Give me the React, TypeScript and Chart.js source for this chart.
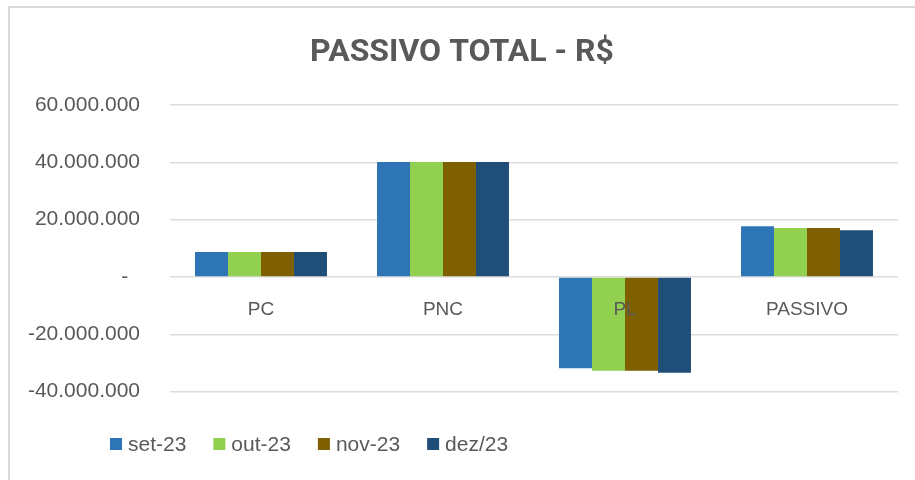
import React, { useEffect, useRef } from "react";
import { Chart, registerables } from "chart.js";

Chart.register(...registerables);

const categories = ["PC", "PNC", "PL", "PASSIVO"];
const seriesLabels = ["set-23", "out-23", "nov-23", "dez/23"];
const set23 = [8700000, 40100000, -31800000, 17700000];
const out23 = [8700000, 40100000, -32700000, 17100000];
const nov23 = [8700000, 40100000, -32700000, 17100000];
const dez23 = [8700000, 40100000, -33400000, 16300000];
const seriesValues = [set23, out23, nov23, dez23];
const seriesColors = ["#2E75B6", "#92D050", "#7F6000", "#1F4E79"];
const yTicks = [-40000000, -20000000, 0, 20000000, 40000000, 60000000];
const titleText = "PASSIVO TOTAL - R$";

function fmt(v: number): string {
  if (v === 0) return "-  ";
  const s = Math.abs(Math.round(v))
    .toString()
    .replace(/\B(?=(\d{3})+(?!\d))/g, ".");
  return (v < 0 ? "-" : "") + s;
}

const TEXT = "#595959";
const FONT = "'Liberation Sans', Arial, sans-serif";

const customLegend = {
  id: "customLegend",
  afterDraw(chart: any) {
    const ctx = chart.ctx;
    ctx.save();
    ctx.font = `21px ${FONT}`;
    ctx.textBaseline = "middle";
    ctx.textAlign = "left";
    let x = 110;
    const y = 444;
    chart.data.datasets.forEach((ds: any) => {
      ctx.fillStyle = ds.backgroundColor;
      ctx.fillRect(x, y - 6, 12, 12);
      x += 18;
      ctx.fillStyle = TEXT;
      ctx.fillText(ds.label, x, y + 1);
      x += ctx.measureText(ds.label).width + 27;
    });
    ctx.restore();
  },
};

export default function App() {
  const ref = useRef<HTMLCanvasElement | null>(null);

  useEffect(() => {
    if (!ref.current) return;
    const chart = new Chart(ref.current, {
      type: "bar",
      data: {
        labels: categories,
        datasets: seriesLabels.map((label, i) => ({
          label,
          data: seriesValues[i],
          backgroundColor: seriesColors[i],
          borderWidth: 0,
          categoryPercentage: 0.725,
          barPercentage: 1,
        })),
      },
      options: {
        responsive: false,
        animation: false,
        layout: { padding: { left: 26, right: 17, top: 0, bottom: 88.3 } },
        plugins: {
          legend: { display: false },
          tooltip: { enabled: false },
          title: {
            display: true,
            text: titleText,
            color: TEXT,
            font: { family: "Roboto", size: 32, weight: "bold", lineHeight: 1.2 },
            padding: { top: 34, bottom: 32.6 },
          },
        },
        scales: {
          x: {
            type: "category",
            position: { y: 0 } as any,
            offset: true,
            grid: { display: false, drawTicks: false },
            border: { display: false },
            ticks: {
              z: 1,
              color: TEXT,
              font: { family: FONT, size: 19 },
              padding: 21,
              maxRotation: 0,
            },
          },
          y: {
            min: -40000000,
            max: 60000000,
            afterBuildTicks: (scale: any) => {
              scale.ticks = yTicks.map((v) => ({ value: v }));
            },
            afterFit: (scale: any) => {
              scale.width = 144;
            },
            grid: { color: "#dcdcdc", lineWidth: 1.6, drawTicks: false },
            border: { display: false },
            ticks: {
              color: TEXT,
              font: { family: FONT, size: 21 },
              padding: 30,
              callback: (v: any) => fmt(Number(v)),
            },
          },
        },
      },
      plugins: [customLegend],
    });
    return () => chart.destroy();
  }, []);

  return (
    <div
      style={{
        position: "absolute",
        left: 0,
        top: 0,
        width: 915,
        height: 480,
        overflow: "hidden",
        background: "#ffffff",
      }}
    >
      <div
        style={{
          position: "absolute",
          left: 8,
          top: 6,
          width: 1200,
          height: 1200,
          borderTop: "2px solid #d9d9d9",
          borderLeft: "2px solid #d9d9d9",
        }}
      />
      <canvas
        ref={ref}
        width={915}
        height={480}
        style={{ position: "absolute", left: 0, top: 0 }}
      />
    </div>
  );
}
